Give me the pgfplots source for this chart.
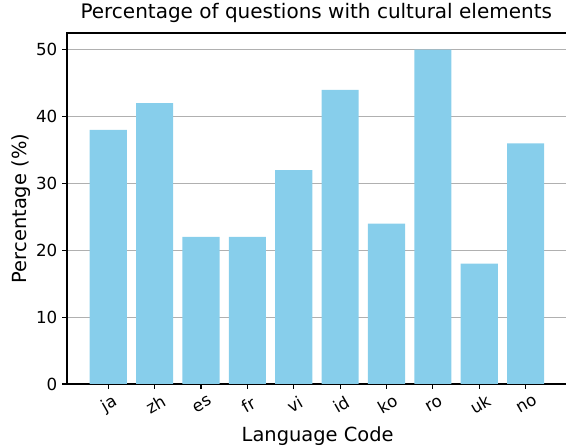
\documentclass[border=0pt]{standalone}
\usepackage{fontspec}
\setmainfont{DejaVu Sans}
\usepackage{pgfplots}
\pgfplotsset{compat=1.18}
\definecolor{skyblue}{RGB}{135,206,235}
\definecolor{gridgray}{RGB}{176,176,176}
\begin{document}
\begin{tikzpicture}
	\begin{axis}[
		scale only axis,
		width=360.95pt, height=252.7pt,
		ybar, bar width=0.8, bar shift=0pt,
		xmin=-0.89, xmax=9.92,
		ymin=0, ymax=52.5,
		xtick=data,
		xticklabels={ja,zh,es,fr,vi,id,ko,ro,uk,no},
		ytick={0,10,20,30,40,50},
		xtick pos=bottom, ytick pos=left,
		axis line style={line width=0.8pt},
		tick align=outside,
		major tick length=3.5pt,
		tick style={line width=0.8pt, black},
		ymajorgrids,
		grid style={gridgray, line width=0.8pt},
		/pgf/number format/assume math mode=true,
		tick label style={font=\fontsize{12}{14}\selectfont},
		xticklabel style={rotate=30, anchor=center, yshift=-10pt, xshift=-5pt},
		title={Percentage of questions with cultural elements},
		title style={font=\fontsize{14.4}{16}\selectfont, yshift=-2pt, xshift=-1pt},
		xlabel={Language Code},
		xlabel style={yshift=0pt},
		ylabel={Percentage (\%)},
		ylabel style={yshift=-3pt},
		label style={font=\fontsize{14}{16}\selectfont},
		]
		\addplot[fill=skyblue, draw=none] table[x expr=\coordindex, y index=0, row sep=\\] {38\\42\\22\\22\\32\\44\\24\\50\\18\\36\\};
		\coordinate (ll) at (axis cs:-0.89,0);
		\coordinate (ur) at (axis cs:9.87,52.5);
	\end{axis}
	\pgfresetboundingbox
	\path ([xshift=-48.24pt, yshift=-46.08pt]ll) rectangle ([yshift=23.76pt]ur);
\end{tikzpicture}
\end{document}
